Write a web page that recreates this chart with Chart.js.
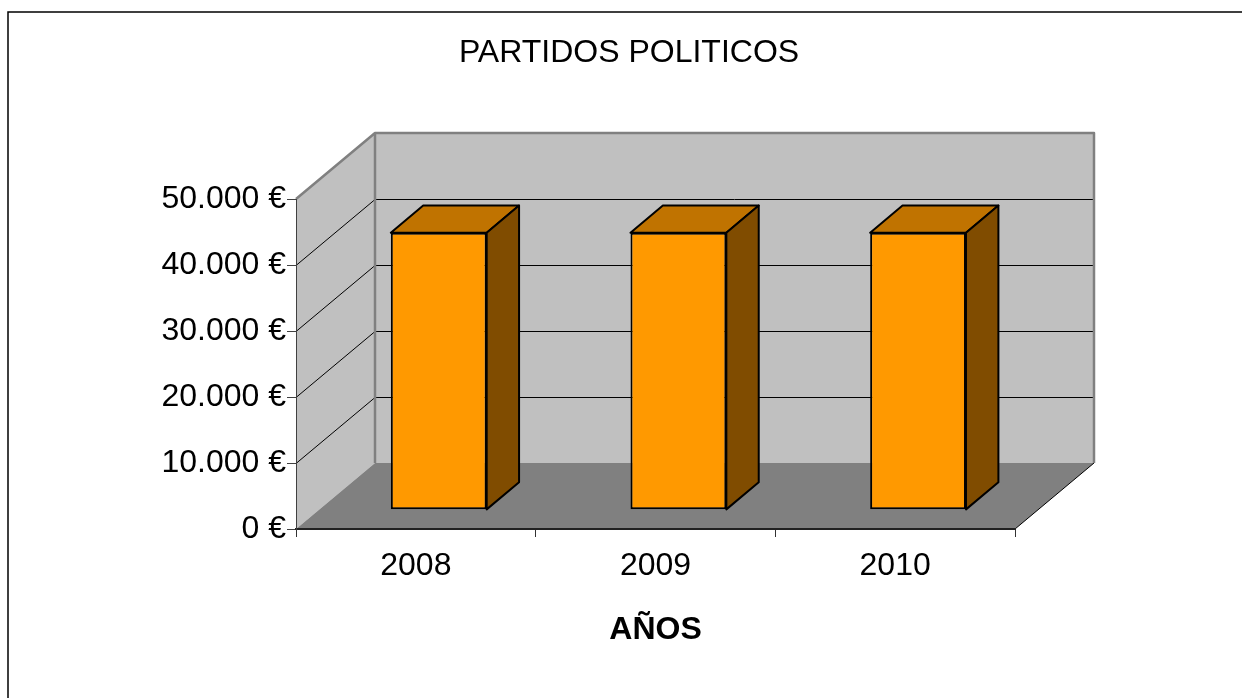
<!DOCTYPE html>
<html>
<head>
<meta charset="utf-8">
<script src="https://cdn.jsdelivr.net/npm/chart.js@4"></script>
<style>
  html, body { margin: 0; padding: 0; background: #fff; overflow: hidden; }
  #wrap { width: 1242px; height: 698px; }
</style>
</head>
<body>
<div id="wrap"><canvas id="grafico" width="1242" height="698"></canvas></div>
<script>
// Datos del gráfico
const anios = ['2008', '2009', '2010'];
const importes = [42000, 42000, 42000];
const valoresEje = [0, 10000, 20000, 30000, 40000, 50000];

// Profundidad 3D (pared) y posición de las barras dentro de ella
const FONDO_X = 79;
const FONDO_Y = -66;
const BARRA_DELANTE = 0.29;
const BARRA_DETRAS = 0.70;

function formatoEuro(v) {
    return String(v).replace(/\B(?=(\d{3})+(?!\d))/g, '.') + ' €';
}

const fuente = "'Liberation Sans', Arial, sans-serif";

// Paredes, suelo y bordes del marco
const paredes = {
    id: 'paredes',
    beforeDraw(chart) {
        const ctx = chart.ctx;
        const a = chart.chartArea;
        const y = chart.scales.y;
        const top = y.getPixelForValue(valoresEje[valoresEje.length - 1]);
        const bot = y.getPixelForValue(0);

        ctx.save();
        // marco exterior
        ctx.strokeStyle = '#000';
        ctx.lineWidth = 1.5;
        ctx.beginPath();
        ctx.moveTo(8, 1000);
        ctx.lineTo(8, 12);
        ctx.lineTo(1300, 12);
        ctx.stroke();

        // pared del fondo
        ctx.fillStyle = '#c0c0c0';
        ctx.fillRect(a.left + FONDO_X, top + FONDO_Y, a.right - a.left, bot - top);
        // pared lateral
        ctx.beginPath();
        ctx.moveTo(a.left, top);
        ctx.lineTo(a.left + FONDO_X, top + FONDO_Y);
        ctx.lineTo(a.left + FONDO_X, bot + FONDO_Y);
        ctx.lineTo(a.left, bot);
        ctx.closePath();
        ctx.fill();
        // suelo
        ctx.fillStyle = '#808080';
        ctx.beginPath();
        ctx.moveTo(a.left, bot);
        ctx.lineTo(a.right, bot);
        ctx.lineTo(a.right + FONDO_X, bot + FONDO_Y);
        ctx.lineTo(a.left + FONDO_X, bot + FONDO_Y);
        ctx.closePath();
        ctx.fill();

        // líneas de división
        ctx.strokeStyle = '#000';
        ctx.lineWidth = 1;
        valoresEje.slice(1, -1).forEach(v => {
            const py = Math.round(y.getPixelForValue(v)) + 0.5;
            ctx.beginPath();
            ctx.moveTo(a.left, py);
            ctx.lineTo(a.left + FONDO_X, py + FONDO_Y);
            ctx.lineTo(a.right + FONDO_X, py + FONDO_Y);
            ctx.stroke();
        });
        // arista derecha del suelo
        ctx.beginPath();
        ctx.moveTo(a.right, bot);
        ctx.lineTo(a.right + FONDO_X, bot + FONDO_Y);
        ctx.stroke();

        // bordes grises de las paredes
        ctx.strokeStyle = '#808080';
        ctx.lineWidth = 2.5;
        ctx.lineJoin = 'round';
        ctx.beginPath();
        ctx.moveTo(a.left, top);
        ctx.lineTo(a.left + FONDO_X, top + FONDO_Y);
        ctx.lineTo(a.right + FONDO_X, top + FONDO_Y);
        ctx.lineTo(a.right + FONDO_X, bot + FONDO_Y);
        ctx.moveTo(a.left + FONDO_X, top + FONDO_Y);
        ctx.lineTo(a.left + FONDO_X, bot + FONDO_Y);
        ctx.stroke();
        ctx.restore();
    },
    beforeDatasetsDraw(chart) {
        chart.ctx.save();
        chart.ctx.translate(FONDO_X * BARRA_DELANTE, FONDO_Y * BARRA_DELANTE);
    },
    afterDatasetsDraw(chart) {
        const ctx = chart.ctx;
        const dx = FONDO_X * (BARRA_DETRAS - BARRA_DELANTE);
        const dy = FONDO_Y * (BARRA_DETRAS - BARRA_DELANTE);
        chart.getDatasetMeta(0).data.forEach(bar => {
            const L = bar.x - bar.width / 2;
            const R = bar.x + bar.width / 2;
            const T = bar.y;
            const B = bar.base;
            ctx.lineWidth = 2;
            ctx.strokeStyle = '#000';
            ctx.lineJoin = 'round';
            // cara superior
            ctx.fillStyle = '#c07300';
            ctx.beginPath();
            ctx.moveTo(L, T);
            ctx.lineTo(L + dx, T + dy);
            ctx.lineTo(R + dx, T + dy);
            ctx.lineTo(R, T);
            ctx.closePath();
            ctx.fill();
            ctx.stroke();
            // cara lateral
            ctx.fillStyle = '#804c00';
            ctx.beginPath();
            ctx.moveTo(R, T);
            ctx.lineTo(R + dx, T + dy);
            ctx.lineTo(R + dx, B + dy);
            ctx.lineTo(R, B);
            ctx.closePath();
            ctx.fill();
            ctx.stroke();
        });
        ctx.restore();
    }
};

new Chart(document.getElementById('grafico'), {
    type: 'bar',
    data: {
        labels: anios,
        datasets: [{
            data: importes,
            backgroundColor: '#ff9900',
            borderColor: '#000',
            borderWidth: 2,
            borderSkipped: false,
            barPercentage: 0.4,
            categoryPercentage: 1
        }]
    },
    plugins: [paredes],
    options: {
        responsive: false,
        animation: false,
        layout: { padding: { left: 16, right: 0, top: 0, bottom: 0 } },
        plugins: {
            legend: { display: false },
            tooltip: { enabled: false },
            title: {
                display: true,
                text: 'PARTIDOS POLITICOS',
                color: '#000',
                font: { family: fuente, size: 32, weight: 'normal' },
                padding: { top: 34, bottom: 126.6 }
            }
        },
        scales: {
            x: {
                grid: { display: true, drawOnChartArea: false, offset: true, tickLength: 8, color: '#333' },
                border: { display: true, color: '#222', width: 2 },
                ticks: { color: '#000', padding: 10, font: { family: fuente, size: 32 } },
                title: {
                    display: true,
                    text: 'AÑOS',
                    color: '#000',
                    font: { family: fuente, size: 32, weight: 'bold' },
                    padding: { top: 0, bottom: 49 }
                },
                afterFit(scale) { scale.height = 169; }
            },
            y: {
                min: 0,
                max: 50000,
                grid: { display: true, drawOnChartArea: false, tickLength: 9, color: '#404040' },
                border: { display: true, color: '#404040', width: 1 },
                ticks: {
                    stepSize: 10000,
                    color: '#000',
                    padding: 1,
                    font: { family: fuente, size: 32 },
                    callback: v => formatoEuro(v)
                },
                afterBuildTicks(scale) {
                    scale.ticks = valoresEje.map(v => ({ value: v }));
                },
                afterFit(scale) { scale.width = 280; }
            },
            // eje vacío que reserva el hueco a la derecha de la pared
            hueco: {
                position: 'right',
                grid: { display: false },
                border: { display: false },
                ticks: { display: false },
                afterFit(scale) { scale.width = 227; }
            }
        }
    }
});
</script>
</body>
</html>
